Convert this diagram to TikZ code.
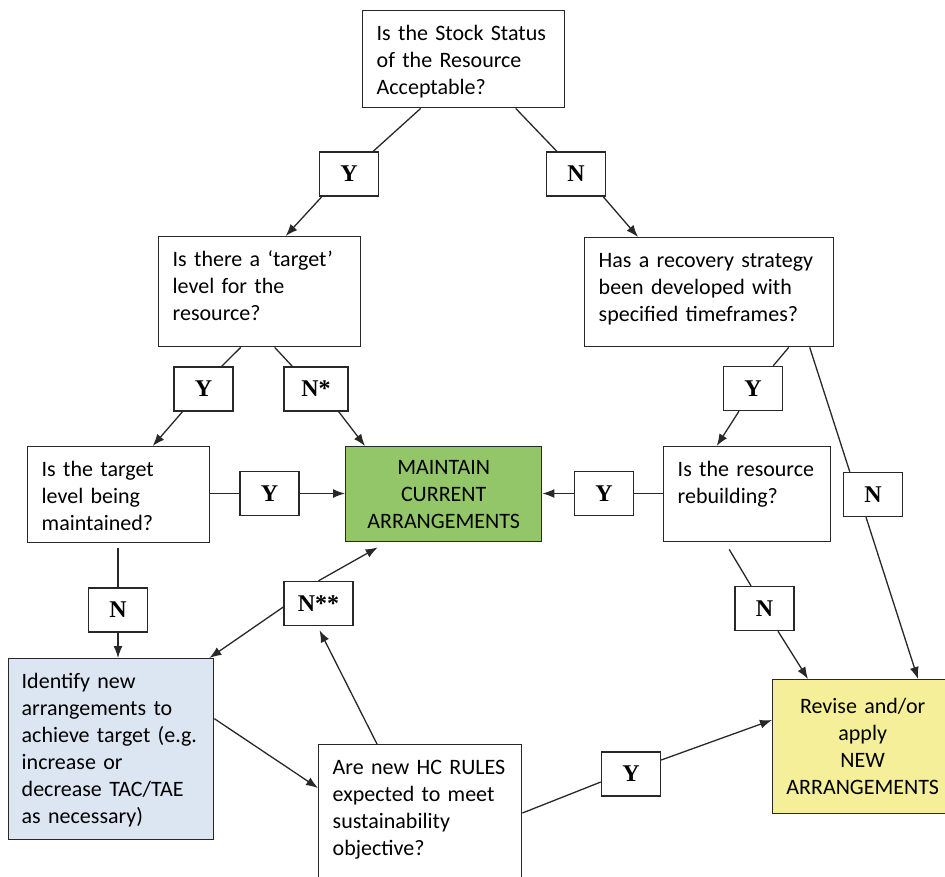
\documentclass[tikz,border=0pt]{standalone}
\usepackage{fontspec}
\newfontfamily\calfont{Carlito}
\newfontfamily\serfont{Liberation Serif}
\usetikzlibrary{arrows.meta}
\definecolor{maintaingreen}{RGB}{146,198,104}
\definecolor{identifyblue}{RGB}{220,230,242}
\definecolor{reviseyellow}{RGB}{244,239,152}
\definecolor{linegray}{RGB}{40,40,40}

\begin{document}
\begin{tikzpicture}[x=1pt, y=-1pt,
	question/.style={draw=linegray, line width=1.4pt, anchor=north west, align=left, inner xsep=14pt, inner ysep=14pt, text height=16pt, font=\calfont\fontsize{22}{27}\selectfont},
	outcome/.style={draw=linegray, line width=1.4pt, anchor=north west, align=center, inner xsep=10pt, inner ysep=0pt, font=\calfont\fontsize{22}{27}\selectfont},
	answer/.style={draw=linegray, line width=1.4pt, fill=white, minimum width=59pt, minimum height=44pt, inner sep=0pt, font=\serfont\bfseries\fontsize{24}{24}\selectfont},
	conn/.style={draw=linegray, line width=1.3pt},
	connarrow/.style={conn, -{Latex[length=12pt,width=9pt]}}]

	\useasboundingbox (0,0) rectangle (945,876);
	\clip (0,0) rectangle (945,876);

	\node (stock) [question, text width=174pt, text depth=53pt] at (362,10) {Is the Stock Status\\of the Resource\\Acceptable?};
	\node (target) [question, text width=174pt, text depth=66pt] at (158,236) {Is there a ‘target’\\level for the\\resource?};
	\node (recovery) [question, text width=221pt, text depth=65pt] at (584,237) {Has a recovery strategy\\been developed with\\specified timeframes?};
	\node (maintained) [question, text width=154pt, text depth=52pt] at (27,446) {Is the target\\level being\\maintained?};
	\node (rebuilding) [question, text width=139pt, text depth=51pt] at (663,446) {Is the resource\\rebuilding?};
	\node (hcrules) [question, text width=175pt, text depth=102pt] at (318,744) {Are new HC RULES\\expected to meet\\sustainability\\objective?};
	\node (identify) [question, fill=identifyblue, inner xsep=13pt, text width=179pt, text depth=137pt] at (8,658) {Identify new\\arrangements to\\achieve target (e.g.\\increase or\\decrease TAC/TAE\\as necessary)};
	\node (maintain) [outcome, fill=maintaingreen, text width=176pt, minimum height=95pt] at (345,446) {MAINTAIN\\CURRENT\\ARRANGEMENTS};
	\node (revise) [outcome, fill=reviseyellow, text width=160pt, minimum height=134pt] at (772,679) {Revise and/or\\apply\\NEW\\ARRANGEMENTS};

	\node (y1) [answer] at (349,174) {Y};
	\node (n1) [answer] at (576,174) {N};
	\node (y2) [answer] at (203.5,389) {Y};
	\node (nstar) [answer, minimum width=64pt] at (316,389) {N*};
	\node (y3) [answer] at (269.5,493.5) {Y};
	\node (y4) [answer] at (604,493.5) {Y};
	\node (y5) [answer] at (753,388.5) {Y};
	\node (nr) [answer] at (873,494.5) {N};
	\node (nb) [answer] at (764.5,608.5) {N};
	\node (nm) [answer] at (118,610) {N};
	\node (nss) [answer, minimum width=69pt] at (318.5,603.5) {N**};
	\node (y6) [answer] at (631,774) {Y};

	\draw[conn] ([xshift=-43pt]stock.south) -- ([xshift=-6pt]y1.north east);
	\draw[connarrow] ([xshift=3pt]y1.south west) -- ([xshift=26pt]target.north);
	\draw[conn] ([xshift=52pt]stock.south) -- ([xshift=11pt]n1.north west);
	\draw[connarrow] ([xshift=-3pt]n1.south east) -- ([xshift=54pt]recovery.north west);

	\draw[conn] ([xshift=-19pt]target.south) -- ([xshift=-12pt]y2.north east);
	\draw[connarrow] ([xshift=-21pt]y2.south) -- ([xshift=34pt]maintained.north);
	\draw[conn] ([xshift=15pt]target.south) -- ([xshift=9pt]nstar.north west);
	\draw[connarrow] ([xshift=-10pt]nstar.south east) -- ([xshift=20pt]maintain.north west);

	\draw[conn] (y3.west -| maintained.east) -- (y3.west);
	\draw[connarrow] (y3.east) -- (y3.east -| maintain.west);
	\draw[conn] (y4.east -| rebuilding.west) -- (y4.east);
	\draw[connarrow] (y4.west) -- (y4.west -| maintain.east);

	\draw[conn] ([xshift=79.5pt]recovery.south) -- ([xshift=-10pt]y5.north east);
	\draw[connarrow] ([xshift=-14pt]y5.south) -- ([xshift=-30.5pt]rebuilding.north);
	\draw[conn] ([xshift=100.5pt]recovery.south) -- ([xshift=7pt]nr.north west);
	\draw[connarrow] ([xshift=-7pt]nr.south) -- ([xshift=146pt]revise.north west);
	\draw[conn] ([xshift=-18pt,yshift=-7pt]rebuilding.south) -- ([xshift=-13.5pt]nb.north);
	\draw[connarrow] ([xshift=13.5pt]nb.south) -- ([xshift=36pt]revise.north west);

	\draw[conn] ([yshift=-5pt]nm.north |- maintained.south) -- (nm.north);
	\draw[connarrow] (nm.south) -- (nm.south |- identify.north);
	\draw[connarrow] ([xshift=59pt]hcrules.north west) -- ([xshift=1pt,yshift=-4pt]nss.south);
	\draw[connarrow] ([yshift=-3.5pt]nss.west) -- ([xshift=-5pt]identify.north east);
	\draw[connarrow] (nss.north) -- ([xshift=-66pt,yshift=-5pt]maintain.south);
	\draw[connarrow] ([yshift=30.5pt]identify.east) -- ([yshift=-44pt]hcrules.north west);
	\draw[conn] ([yshift=-69pt]hcrules.north east) -- ([yshift=-8pt]y6.west);
	\draw[connarrow] ([yshift=14pt]y6.east) -- ([yshift=-41pt]revise.north west);

\end{tikzpicture}
\end{document}
